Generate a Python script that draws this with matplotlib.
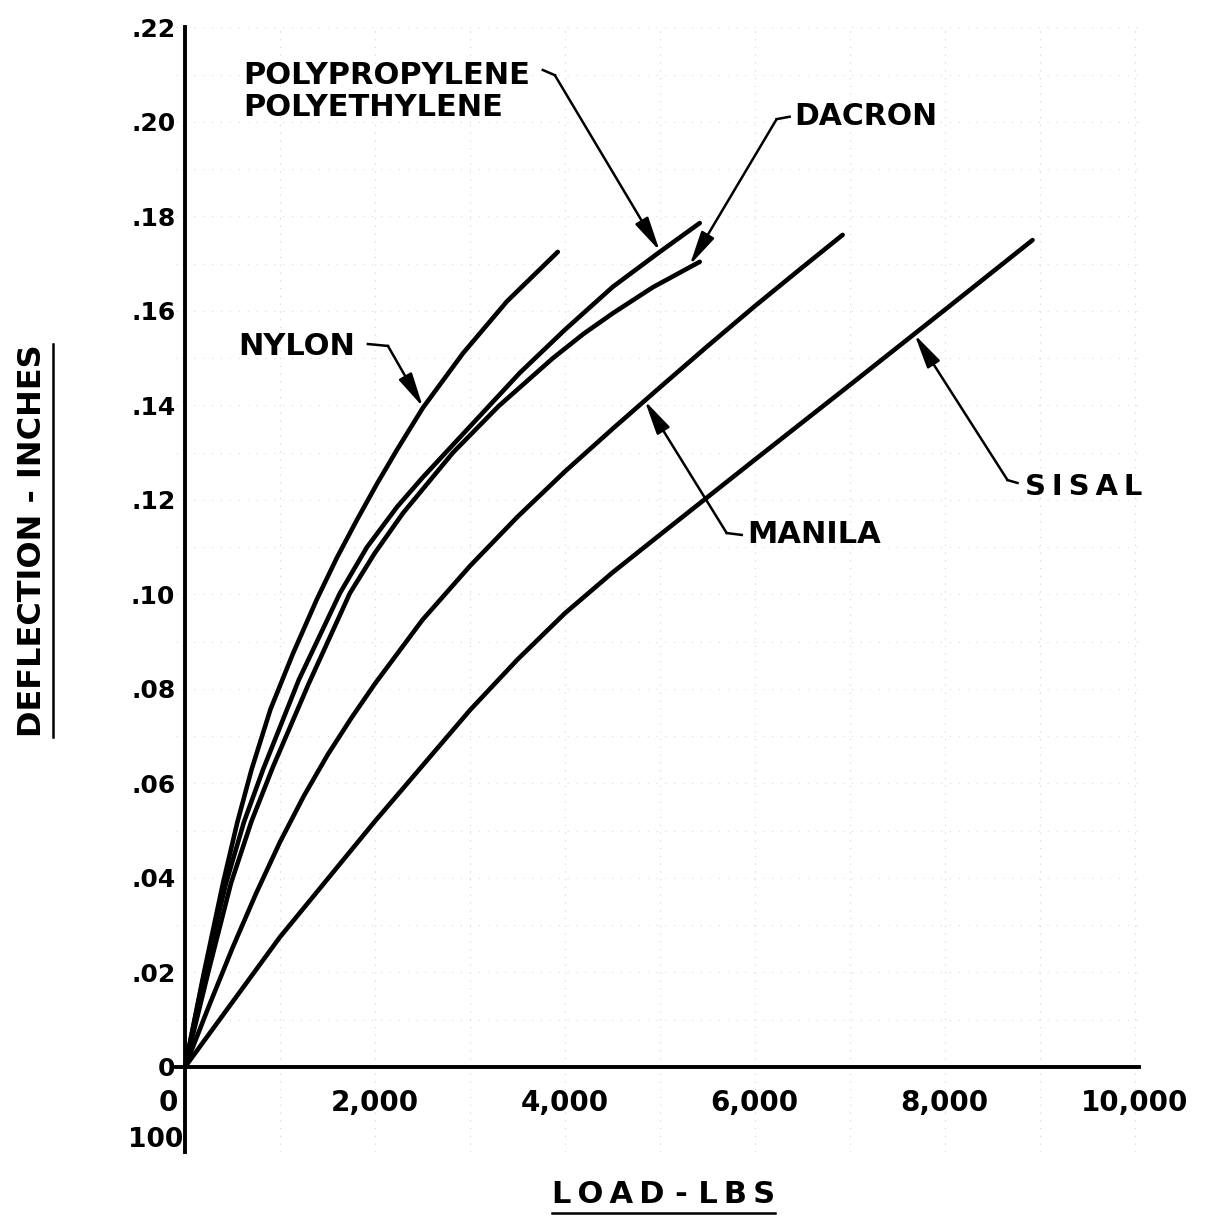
import numpy as np
import matplotlib
matplotlib.use("Agg")
import matplotlib.pyplot as plt

# load (lbs) vs deflection (inches)
nylon_x = [0, 200, 400, 550, 700, 900, 1137, 1389, 1600, 1811, 2021, 2232, 2505, 2926, 3389, 3926]
nylon_y = [0, 0.0200, 0.0389, 0.0517, 0.0629, 0.0757, 0.0875, 0.0990, 0.1078, 0.1158, 0.1234,
           0.1306, 0.1395, 0.1510, 0.1620, 0.1725]

poly_x = [0, 200, 432, 620, 821, 1200, 1632, 1916, 2232, 2500, 2800, 3526, 4000, 4505, 5000, 5421]
poly_y = [0, 0.0195, 0.0389, 0.0518, 0.0629, 0.0820, 0.1003, 0.1100, 0.1185, 0.1247, 0.1312,
          0.1469, 0.1560, 0.1651, 0.1725, 0.1786]

dacron_x = [0, 250, 484, 700, 926, 1300, 1737, 2000, 2295, 2821, 3300, 3874, 4200, 4505, 4926, 5421]
dacron_y = [0, 0.0205, 0.0389, 0.0520, 0.0635, 0.0810, 0.1003, 0.1088, 0.1172, 0.1300, 0.1398,
            0.1500, 0.1552, 0.1595, 0.1650, 0.1704]

manila_x = [0, 250, 500, 750, 1000, 1250, 1500, 1750, 2000, 2500, 3000, 3500, 4000, 4500, 5000,
            5500, 6000, 6500, 6926]
manila_y = [0, 0.0128, 0.0252, 0.0368, 0.0476, 0.0573, 0.0660, 0.0738, 0.0811, 0.0946, 0.1060,
            0.1164, 0.1260, 0.1350, 0.1438, 0.1525, 0.1610, 0.1692, 0.1761]

sisal_x = [0, 1000, 2000, 3000, 3500, 4000, 4500, 5000, 6000, 7000, 8000, 8926]
sisal_y = [0, 0.0275, 0.0520, 0.0755, 0.0862, 0.0960, 0.1046, 0.1126, 0.1285, 0.1443, 0.1602,
           0.1750]

xticks = [2000, 4000, 6000, 8000, 10000]
xtick_labels = ["2,000", "4,000", "6,000", "8,000", "10,000"]
yticks = [0, 0.02, 0.04, 0.06, 0.08, 0.10, 0.12, 0.14, 0.16, 0.18, 0.20, 0.22]
ytick_labels = ["0", ".02", ".04", ".06", ".08", ".10", ".12", ".14", ".16", ".18", ".20", ".22"]

plt.rcParams["font.family"] = "DejaVu Sans"
plt.rcParams["font.weight"] = "bold"

fig = plt.figure(figsize=(12.13, 12.20), dpi=100)
ax = fig.add_axes([0.1447, 0.0557, 0.7945, 0.9218])
ax.set_xlim(-100, 10050)
ax.set_ylim(-0.018, 0.22)

# faint graph paper
for gx in range(1000, 10001, 1000):
    ax.axvline(gx, color="#d4d4d4", lw=0.8, ls=(0, (1, 6)), zorder=0)
for gy in np.arange(0.01, 0.2201, 0.01):
    ax.axhline(gy, color="#dcdcdc", lw=0.8, ls=(0, (1, 7)), zorder=0)

lw = 3.3
for xs, ys in [(nylon_x, nylon_y), (poly_x, poly_y), (dacron_x, dacron_y),
               (manila_x, manila_y), (sisal_x, sisal_y)]:
    ax.plot(xs, ys, color="black", lw=lw, solid_capstyle="round", solid_joinstyle="round")

ax.spines["top"].set_visible(False)
ax.spines["right"].set_visible(False)
ax.spines["left"].set_position(("data", 0))
ax.spines["bottom"].set_position(("data", 0))
ax.spines["left"].set_linewidth(2.8)
ax.spines["bottom"].set_linewidth(2.8)

ax.set_xticks(xticks)
ax.set_xticklabels(xtick_labels, fontsize=20, fontweight="bold")
ax.set_yticks(yticks)
ax.set_yticklabels(ytick_labels, fontsize=18, fontweight="bold")
ax.tick_params(axis="x", length=0, pad=16)
ax.tick_params(axis="y", length=0, pad=7)

ax.text(-175, -0.0076, "0", fontsize=20, fontweight="bold", ha="center", va="center")
ax.text(-310, -0.0155, "100", fontsize=19, fontweight="bold", ha="center", va="center")

ts = "\u2009"
arrow = dict(arrowstyle="-|>,head_length=1.3,head_width=0.28", color="black", lw=1.8,
             shrinkA=0, shrinkB=0, mutation_scale=16)

# labels with leader arrows: (text, size, text pos, hook start, bend, tip)
leaders = [
    ("NYLON", 22, (558, 0.1524), (1926, 0.1530), (2137, 0.1526), (2505, 0.1397)),
    ("DACRON", 21.5, (6421, 0.2011), (6368, 0.2011), (6231, 0.2006), (5316, 0.1697)),
    ("MANILA", 22, (5926, 0.1126), (5863, 0.1126), (5705, 0.1130), (4842, 0.1410)),
    (ts.join("SISAL"), 21, (8842, 0.1228), (8768, 0.1236), (8663, 0.1242), (7684, 0.1550)),
]
for label, fs, tpos, hook, bend, tip in leaders:
    ax.text(tpos[0], tpos[1], label, fontsize=fs, fontweight="bold", ha="left", va="center")
    ax.plot([hook[0], bend[0]], [hook[1], bend[1]], color="black", lw=1.8)
    ax.annotate("", xy=tip, xytext=bend, arrowprops=arrow)

ax.text(611, 0.2099, "POLYPROPYLENE", fontsize=22, fontweight="bold", ha="left", va="center")
ax.text(611, 0.2030, "POLYETHYLENE", fontsize=22, fontweight="bold", ha="left", va="center")
ax.plot([3768, 3895], [0.2110, 0.2099], color="black", lw=1.8)
ax.annotate("", xy=(5000, 0.1727), xytext=(3895, 0.2099), arrowprops=arrow)

# axis titles, underlined like the original
ylab = fig.text(0.027, 0.557, "DEFLECTION - INCHES", rotation=90, fontsize=23,
                fontweight="bold", ha="center", va="center")
xlab = fig.text(0.547, 0.021, ts.join("LOAD") + " - " + ts.join("LBS"), fontsize=22,
                fontweight="bold", ha="center", va="center")

fig.canvas.draw()
r = fig.canvas.get_renderer()
inv = fig.transFigure.inverted()
bb = ylab.get_window_extent(r).transformed(inv)
fig.add_artist(plt.Line2D([bb.x1 + 0.004] * 2, [bb.y0, bb.y1], color="black", lw=1.8))
bb = xlab.get_window_extent(r).transformed(inv)
fig.add_artist(plt.Line2D([bb.x0, bb.x1], [bb.y0 - 0.003] * 2, color="black", lw=1.8))

fig.savefig("out.png", dpi=100, facecolor="white")
